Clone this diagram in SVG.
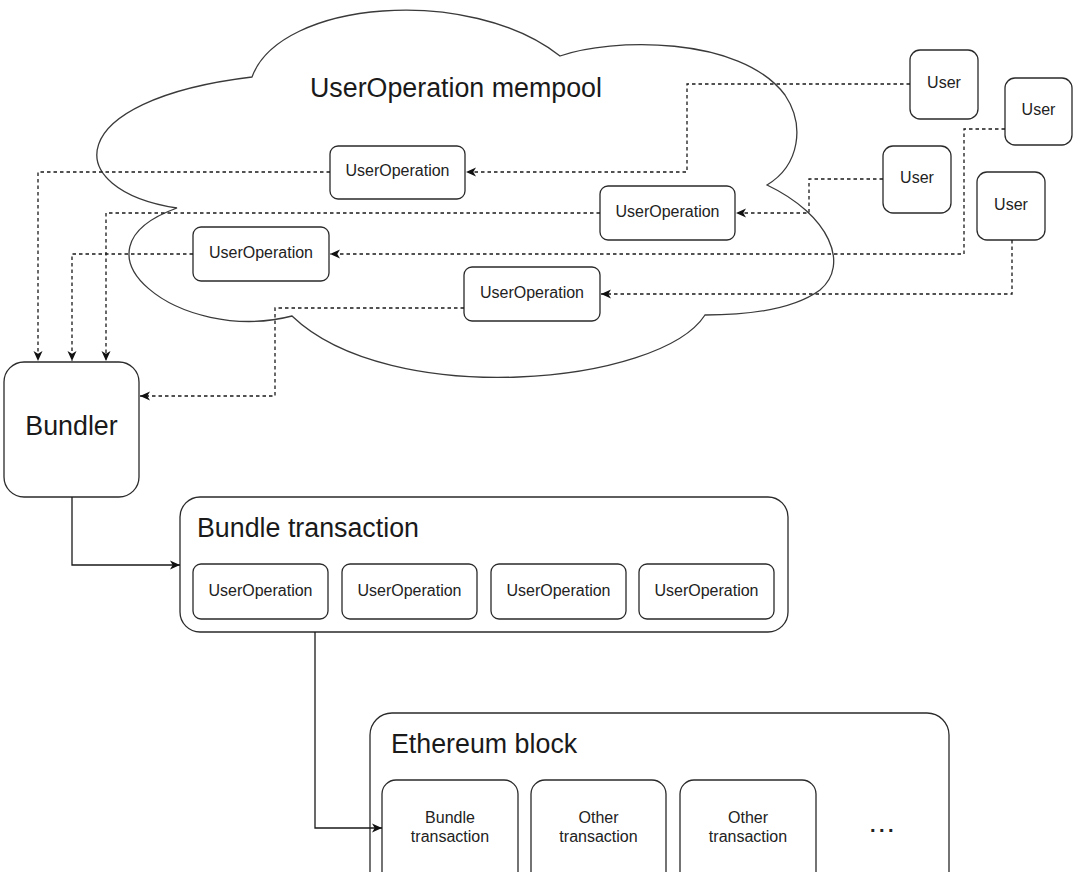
<svg xmlns="http://www.w3.org/2000/svg" width="1080" height="872" viewBox="0 0 1080 872">
<defs>
<style>
.bg{fill:#ffffff}
.box{fill:#ffffff;stroke:#2a2a2a;stroke-width:1.3}
.cloud{fill:#ffffff;stroke:#3a3a3a;stroke-width:1.3}
.dash{fill:none;stroke:#1a1a1a;stroke-width:1.3;stroke-dasharray:3.5 3}
.solid{fill:none;stroke:#1a1a1a;stroke-width:1.3}
.t16{font-family:"Liberation Sans",Arial,sans-serif;font-size:16px;fill:#222;text-anchor:middle}
.t27{font-family:"Liberation Sans",Arial,sans-serif;font-size:26.8px;fill:#1a1a1a}
</style>
<marker id="arr" markerUnits="userSpaceOnUse" markerWidth="11" markerHeight="11" viewBox="0 0 11 11" refX="10.5" refY="5.5" orient="auto">
<path d="M0.5,1 L10.5,5.5 L0.5,10 L3.2,5.5 z" fill="#111" stroke="none"/>
</marker>
</defs>
<rect class="bg" x="0" y="0" width="1080" height="872"/>

<g id="mempool">
<path class="cloud" d="M252,77 C280,0 470,-15 560,56 C610,38 740,35 785,95 C805,125 800,165 767,185 C830,215 850,265 820,290 C790,312 740,315 705,315 C660,385 390,410 292,316 C180,345 60,250 177,208 C60,190 60,100 252,77 Z"/>
<text class="t27" x="310" y="97">UserOperation mempool</text>
</g>

<g id="uo-a"><rect class="box" x="330" y="146" width="135" height="53" rx="8"/><text class="t16" x="397.5" y="176">UserOperation</text></g>
<g id="uo-b"><rect class="box" x="600" y="186" width="135" height="54" rx="8"/><text class="t16" x="667.5" y="216.5">UserOperation</text></g>
<g id="uo-c"><rect class="box" x="193" y="227" width="136" height="54" rx="8"/><text class="t16" x="261" y="257.5">UserOperation</text></g>
<g id="uo-d"><rect class="box" x="464" y="267" width="136" height="54" rx="8"/><text class="t16" x="532" y="297.5">UserOperation</text></g>

<g id="user1"><rect class="box" x="910" y="50" width="68" height="69" rx="10"/><text class="t16" x="944" y="88">User</text></g>
<g id="user2"><rect class="box" x="1005" y="78" width="67" height="67" rx="10"/><text class="t16" x="1038.5" y="115">User</text></g>
<g id="user3"><rect class="box" x="883" y="146" width="68" height="67" rx="10"/><text class="t16" x="917" y="183">User</text></g>
<g id="user4"><rect class="box" x="977" y="172" width="68" height="68" rx="10"/><text class="t16" x="1011" y="210">User</text></g>

<g id="bundler"><rect class="box" x="4" y="362" width="135" height="135" rx="20"/><text class="t27" x="71.5" y="435" text-anchor="middle">Bundler</text></g>

<g id="bundle-transaction">
<rect class="box" x="180" y="497" width="608" height="135" rx="20"/>
<text class="t27" x="197" y="537">Bundle transaction</text>
<rect class="box" x="193" y="564" width="135" height="55" rx="8"/><text class="t16" x="260.5" y="595.5">UserOperation</text>
<rect class="box" x="342" y="564" width="135" height="55" rx="8"/><text class="t16" x="409.5" y="595.5">UserOperation</text>
<rect class="box" x="491" y="564" width="135" height="55" rx="8"/><text class="t16" x="558.5" y="595.5">UserOperation</text>
<rect class="box" x="639" y="564" width="135" height="55" rx="8"/><text class="t16" x="706.5" y="595.5">UserOperation</text>
</g>

<g id="ethereum-block">
<rect class="box" x="370" y="713" width="579" height="200" rx="22"/>
<text class="t27" x="391" y="753">Ethereum block</text>
<rect class="box" x="382" y="780" width="136" height="130" rx="14"/><text class="t16" x="450" y="823">Bundle</text><text class="t16" x="450" y="842">transaction</text>
<rect class="box" x="531" y="780" width="135" height="130" rx="14"/><text class="t16" x="598.5" y="823">Other</text><text class="t16" x="598.5" y="842">transaction</text>
<rect class="box" x="680" y="780" width="136" height="130" rx="14"/><text class="t16" x="748" y="823">Other</text><text class="t16" x="748" y="842">transaction</text>
<text x="870" y="832" font-family="&quot;Liberation Sans&quot;,Arial,sans-serif" font-size="20" font-weight="bold" letter-spacing="3.5" fill="#222">...</text>
</g>

<g id="connectors">
<path class="dash" d="M910,84 H687 V172 H466" marker-end="url(#arr)"/>
<path class="dash" d="M883,179 H809 V213 H736" marker-end="url(#arr)"/>
<path class="dash" d="M1005,129 H964 V254 H330" marker-end="url(#arr)"/>
<path class="dash" d="M1012,240 V294 H601" marker-end="url(#arr)"/>
<path class="dash" d="M330,172 H38 V361" marker-end="url(#arr)"/>
<path class="dash" d="M600,213 H106 V361" marker-end="url(#arr)"/>
<path class="dash" d="M193,254 H72 V361" marker-end="url(#arr)"/>
<path class="dash" d="M464,308 H275 V396 H140" marker-end="url(#arr)"/>
<path class="solid" d="M72,497 V565 H180" marker-end="url(#arr)"/>
<path class="solid" d="M315,632 V828 H382" marker-end="url(#arr)"/>
</g>
</svg>
